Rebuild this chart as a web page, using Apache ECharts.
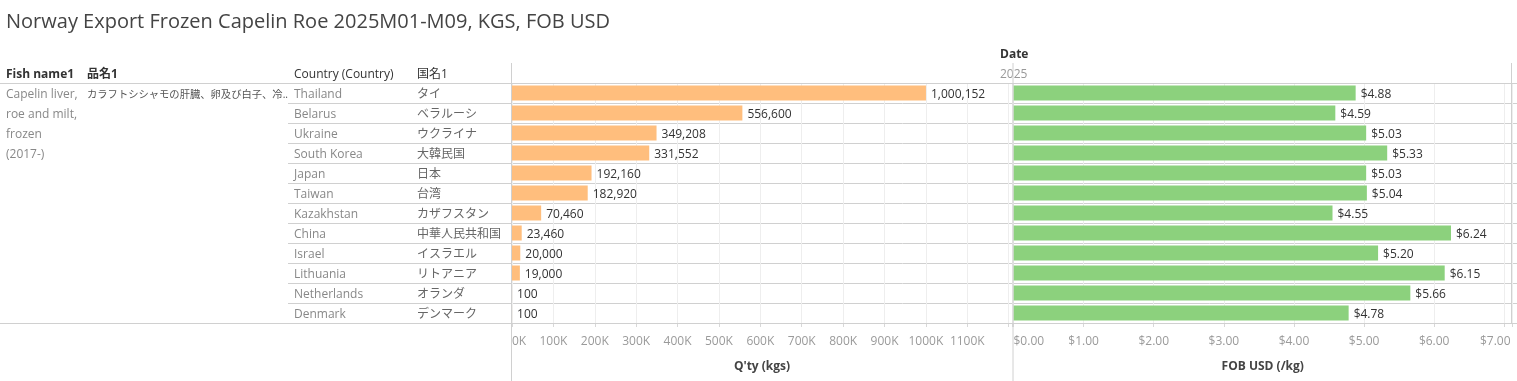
<!DOCTYPE html>
<html>
<head>
<meta charset="utf-8">
<script src="https://cdn.jsdelivr.net/npm/echarts@6/dist/echarts.min.js"></script>
<style>
  html, body { margin: 0; padding: 0; background: #fff; }
  #chart { width: 1517px; height: 381px; }
</style>
</head>
<body>
<div id="chart"></div>
<script>
// ---- data ----
const countries = ['Thailand', 'Belarus', 'Ukraine', 'South Korea', 'Japan', 'Taiwan', 'Kazakhstan', 'China', 'Israel', 'Lithuania', 'Netherlands', 'Denmark'];
const countriesJa = ['タイ', 'ベラルーシ', 'ウクライナ', '大韓民国', '日本', '台湾', 'カザフスタン', '中華人民共和国', 'イスラエル', 'リトアニア', 'オランダ', 'デンマーク'];
const qtyKgs = [1000152, 556600, 349208, 331552, 192160, 182920, 70460, 23460, 20000, 19000, 100, 100];
const fobUsdPerKg = [4.88, 4.59, 5.03, 5.33, 5.03, 5.04, 4.55, 6.24, 5.20, 6.15, 5.66, 4.78];
const titleText = 'Norway Export Frozen Capelin Roe 2025M01-M09, KGS, FOB USD';
const fishNameEn = 'Capelin liver,\nroe and milt,\nfrozen\n(2017-)';
const fishNameJa = 'カラフトシシャモの肝臓、卵及び白子、冷..';
const yearLabel = '2025';

// ---- layout ----
const FONT = '"Open Sans", "Noto Sans CJK JP", sans-serif';
const TOP = 83, ROWS_H = 240;
const Q_LEFT = 512, Q_W = 500;
const P_LEFT = 1013.5, P_W = 498.5;
const LINE = '#d0d0d0';
const DY = 2; // baseline nudge for Open Sans

const chart = echarts.init(document.getElementById('chart'), null, { renderer: 'canvas' });

const catIdx = countries.map((c, i) => i);

function txt(text, x, yCenter, font, fill, extra) {
  return Object.assign({
    type: 'text', x: x, y: yCenter + DY,
    style: { text: text, font: font, fill: fill, verticalAlign: 'middle', textAlign: 'left' }
  }, extra || {});
}

const option = {
  animation: false,
  textStyle: { fontFamily: FONT },
  grid: [
    { left: 288, right: 0, top: TOP, height: ROWS_H },
    { left: Q_LEFT, width: Q_W, top: TOP, height: ROWS_H },
    { left: P_LEFT, width: P_W, top: TOP, height: ROWS_H }
  ],
  xAxis: [
    { gridIndex: 0, type: 'value', show: false },
    {
      gridIndex: 1, type: 'value', min: 0, max: 1208000, interval: 100000,
      axisLine: { show: false },
      axisTick: { show: true, length: 4, lineStyle: { color: '#d8d8d8' } },
      splitLine: { show: true, lineStyle: { color: '#eeeeee' } },
      axisLabel: {
        margin: 13, color: '#9a9a9a', fontSize: 12, fontFamily: FONT,
        alignMinLabel: 'left',
        formatter: v => (v > 1100000 ? '' : (v / 1000) + 'K')
      },
      name: "Q'ty (kgs)", nameLocation: 'middle', nameGap: 38,
      nameTextStyle: { color: '#444', fontSize: 12, fontWeight: 'bold', fontFamily: FONT }
    },
    {
      gridIndex: 2, type: 'value', min: 0, max: 7.11, interval: 1,
      axisLine: { show: false },
      axisTick: { show: true, length: 4, lineStyle: { color: '#d8d8d8' } },
      splitLine: { show: true, lineStyle: { color: '#eeeeee' } },
      axisLabel: {
        margin: 13, color: '#9a9a9a', fontSize: 12, fontFamily: FONT,
        alignMinLabel: 'left',
        formatter: v => {
          if (v > 7.001) return '';
          const s = '$' + v.toFixed(2);
          return Math.abs(v - 7) < 1e-6 ? '{r|' + s + '}' : s;
        },
        rich: { r: { color: '#9a9a9a', fontSize: 12, fontFamily: FONT, padding: [0, 18, 0, 0] } }
      },
      name: 'FOB USD (/kg)', nameLocation: 'middle', nameGap: 38,
      nameTextStyle: { color: '#444', fontSize: 12, fontWeight: 'bold', fontFamily: FONT }
    }
  ],
  yAxis: [
    {
      gridIndex: 0, type: 'category', inverse: true, data: catIdx,
      axisLine: { show: false }, axisTick: { show: false },
      splitLine: { show: true, lineStyle: { color: LINE } },
      axisLabel: {
        inside: true, margin: 6, align: 'left',
        formatter: i => '{c|' + countries[i] + '}{j|' + countriesJa[i] + '}',
        rich: {
          c: { width: 123, color: '#888', fontSize: 12, fontFamily: FONT, padding: [2 * DY, 0, 0, 0] },
          j: { color: '#666', fontSize: 12, fontFamily: FONT, padding: [2 * DY, 0, 0, 0] }
        }
      }
    },
    { gridIndex: 1, type: 'category', inverse: true, data: countries, show: false },
    { gridIndex: 2, type: 'category', inverse: true, data: countries, show: false }
  ],
  series: [
    {
      type: 'bar', xAxisIndex: 1, yAxisIndex: 1, data: qtyKgs, barWidth: 15,
      itemStyle: { color: '#FFBE7D' },
      label: {
        show: true, position: 'right', distance: 5, offset: [0, DY], color: '#333', fontSize: 12, fontFamily: FONT,
        formatter: p => p.value.toLocaleString('en-US')
      }
    },
    {
      type: 'bar', xAxisIndex: 2, yAxisIndex: 2, data: fobUsdPerKg, barWidth: 15,
      itemStyle: { color: '#8CD17D' },
      label: {
        show: true, position: 'right', distance: 5, offset: [0, DY], color: '#333', fontSize: 12, fontFamily: FONT,
        formatter: p => '$' + p.value.toFixed(2)
      }
    }
  ],
  graphic: [
    txt(titleText, 6, 20, '20px ' + FONT, '#444'),
    txt('Date', 1000, 53, 'bold 12px ' + FONT, '#333'),
    txt(yearLabel, 1000, 73, '12px ' + FONT, '#999'),
    txt('Fish name1', 6, 73, 'bold 12px ' + FONT, '#333'),
    txt('品名1', 87, 73, 'bold 12px ' + FONT, '#333'),
    txt('Country (Country)', 294, 73, '12px ' + FONT, '#333'),
    txt('国名1', 417, 73, '12px ' + FONT, '#333'),
    { type: 'text', x: 6, y: 83 + DY, style: { text: fishNameEn, font: '12px ' + FONT, fill: '#888', lineHeight: 20 } },
    txt(fishNameJa, 87, 93, '10.3px ' + FONT, '#555'),
    { type: 'line', shape: { x1: 0, y1: TOP + 0.5, x2: 1517, y2: TOP + 0.5 }, style: { stroke: LINE, lineWidth: 1 }, z: 10 },
    { type: 'line', shape: { x1: 0, y1: TOP + ROWS_H + 0.5, x2: 1517, y2: TOP + ROWS_H + 0.5 }, style: { stroke: LINE, lineWidth: 1 }, z: 10 },
    { type: 'line', shape: { x1: Q_LEFT - 0.5, y1: 63, x2: Q_LEFT - 0.5, y2: 381 }, style: { stroke: LINE, lineWidth: 1 }, z: 10 },
    { type: 'line', shape: { x1: P_LEFT - 0.5, y1: 63, x2: P_LEFT - 0.5, y2: 381 }, style: { stroke: LINE, lineWidth: 1 }, z: 10 },
    { type: 'line', shape: { x1: P_LEFT + P_W - 0.5, y1: 63, x2: P_LEFT + P_W - 0.5, y2: TOP + ROWS_H }, style: { stroke: LINE, lineWidth: 1 }, z: 10 }
  ]
};

chart.setOption(option);
</script>
</body>
</html>
